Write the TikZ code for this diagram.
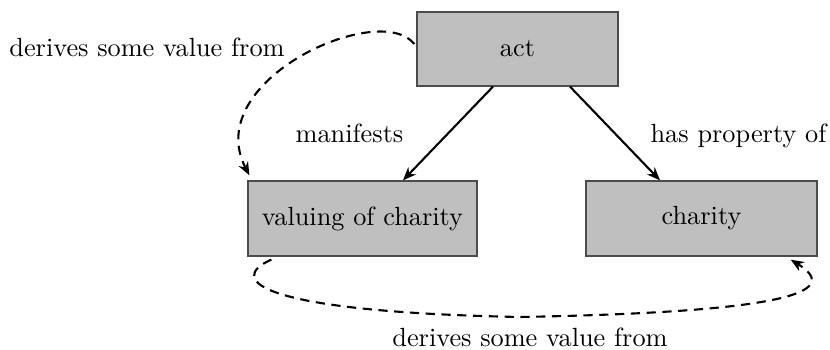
\documentclass[tikz,border=0pt]{standalone}
\usetikzlibrary{arrows.meta,calc}
\begin{document}
\begin{tikzpicture}[x=0.38pt,y=-0.38pt,
  box/.style={draw=black!70,fill=black!25,line width=0.5pt,inner sep=0pt},
  rel/.style={-{Stealth[length=5pt,width=4pt]},thick},
  der/.style={-{Stealth[length=5pt,width=4pt]},thick,dashed,dash pattern=on 3.5pt off 2.5pt},
  lbl/.style={anchor=base,inner sep=0pt}]
\useasboundingbox (0,0) rectangle (830,350);
\node[box,minimum width=76.4pt,minimum height=28.1pt] (act) at (517.5,49) {act};
\node[box,minimum width=87pt,minimum height=28.5pt] (val) at (362.5,218.5) {valuing of charity};
\node[box,minimum width=87.8pt,minimum height=28.5pt] (cha) at (701.5,218.5) {charity};
\draw[rel] ($(act.south)+(-24.5,0)$) -- ($(val.north)+(40.5,0)$);
\draw[rel] ($(act.south)+(52.5,0)$) -- ($(cha.north)+(-41.5,0)$);
\node[lbl] (m) at (349.5,143) {manifests};
\node[lbl] (h) at (738.5,143) {has property of};
\draw[der] ($(act.west)+(-2,-5)$) .. controls (380,0) and (200,80) .. ($(val.north west)+(2,-5)$);
\draw[der] ($(val.south west)+(24,3)$) .. controls (225,280) and (260,312) .. (520,317) .. controls (800,312) and (840,290) .. ($(cha.south east)+(-27,3)$);
\node[lbl] (d1) at (147,57) {derives some value from};
\node[lbl] (d2) at (530,347) {derives some value from};
\end{tikzpicture}
\end{document}
